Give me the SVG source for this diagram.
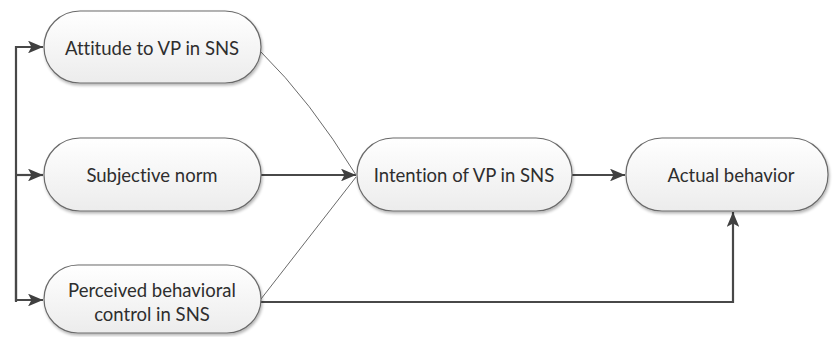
<svg xmlns="http://www.w3.org/2000/svg" width="835" height="337" viewBox="0 0 835 337">
<defs>
<linearGradient id="g" x1="0" y1="0" x2="0" y2="1">
<stop offset="0" stop-color="#ffffff"/>
<stop offset="1" stop-color="#ececec"/>
</linearGradient>
<filter id="sh" x="-10%" y="-10%" width="120%" height="130%">
<feGaussianBlur in="SourceAlpha" stdDeviation="1.5"/>
<feOffset dx="1" dy="2" result="b"/>
<feComponentTransfer><feFuncA type="linear" slope="0.3"/></feComponentTransfer>
<feMerge><feMergeNode/><feMergeNode in="SourceGraphic"/></feMerge>
</filter>
<marker id="ah" viewBox="0 0 13 11" refX="13" refY="5.5" markerWidth="6.8" markerHeight="5.8" orient="auto" markerUnits="strokeWidth">
<path d="M0,0 L13,5.5 L0,11 L3,5.5 Z" fill="#404040"/>
</marker>
<marker id="ahs" viewBox="0 0 13 11" refX="13" refY="5.5" markerWidth="14" markerHeight="12" orient="auto" markerUnits="strokeWidth">
<path d="M0,0 L13,5.5 L0,11 L3,5.5 Z" fill="#404040"/>
</marker>
</defs>
<style>
.node rect{fill:url(#g);stroke:#6a6a6a;stroke-width:1.2;filter:url(#sh)}
.node text{font-family:Lato,"Liberation Sans",sans-serif;font-size:18.5px;fill:#2e2e2e;text-anchor:middle;font-variant-ligatures:none}
.c{fill:none;stroke:#484848;stroke-width:2.2}
.t{fill:none;stroke:#6a6a6a;stroke-width:1}
</style>
<g id="connectors">
<path class="c" d="M16,302 L16,47 L43,47" marker-end="url(#ah)"/>
<path class="c" d="M16,175 L43,175" marker-end="url(#ah)"/>
<path class="c" d="M16,200 L16,300 L43,300" marker-end="url(#ah)"/>
<path class="c" d="M261,175 L356,175" marker-end="url(#ah)"/>
<path class="t" d="M261,52 Q310,100 356,175"/>
<path class="t" d="M261,299 L356,177"/>
<path class="c" d="M572,175 L625,175" marker-end="url(#ah)"/>
<path class="c" d="M261,302 L733,302 L733,212" marker-end="url(#ah)"/>
</g>
<g id="attitude" class="node">
<rect x="44" y="11" width="217" height="72" rx="36" ry="36"/>
<text x="152" y="55">Attitude to VP in SNS</text>
</g>
<g id="subjective" class="node">
<rect x="44" y="138" width="217" height="73" rx="36" ry="36"/>
<text x="152" y="182">Subjective norm</text>
</g>
<g id="perceived" class="node">
<rect x="44" y="265" width="217" height="68" rx="34" ry="34"/>
<text x="152" y="297">Perceived behavioral</text>
<text x="152" y="321">control in SNS</text>
</g>
<g id="intention" class="node">
<rect x="357" y="138" width="215" height="73" rx="36" ry="36"/>
<text x="464" y="182">Intention of VP in SNS</text>
</g>
<g id="actual" class="node">
<rect x="626" y="138" width="202" height="73" rx="36" ry="36"/>
<text x="731" y="182">Actual behavior</text>
</g>
</svg>
